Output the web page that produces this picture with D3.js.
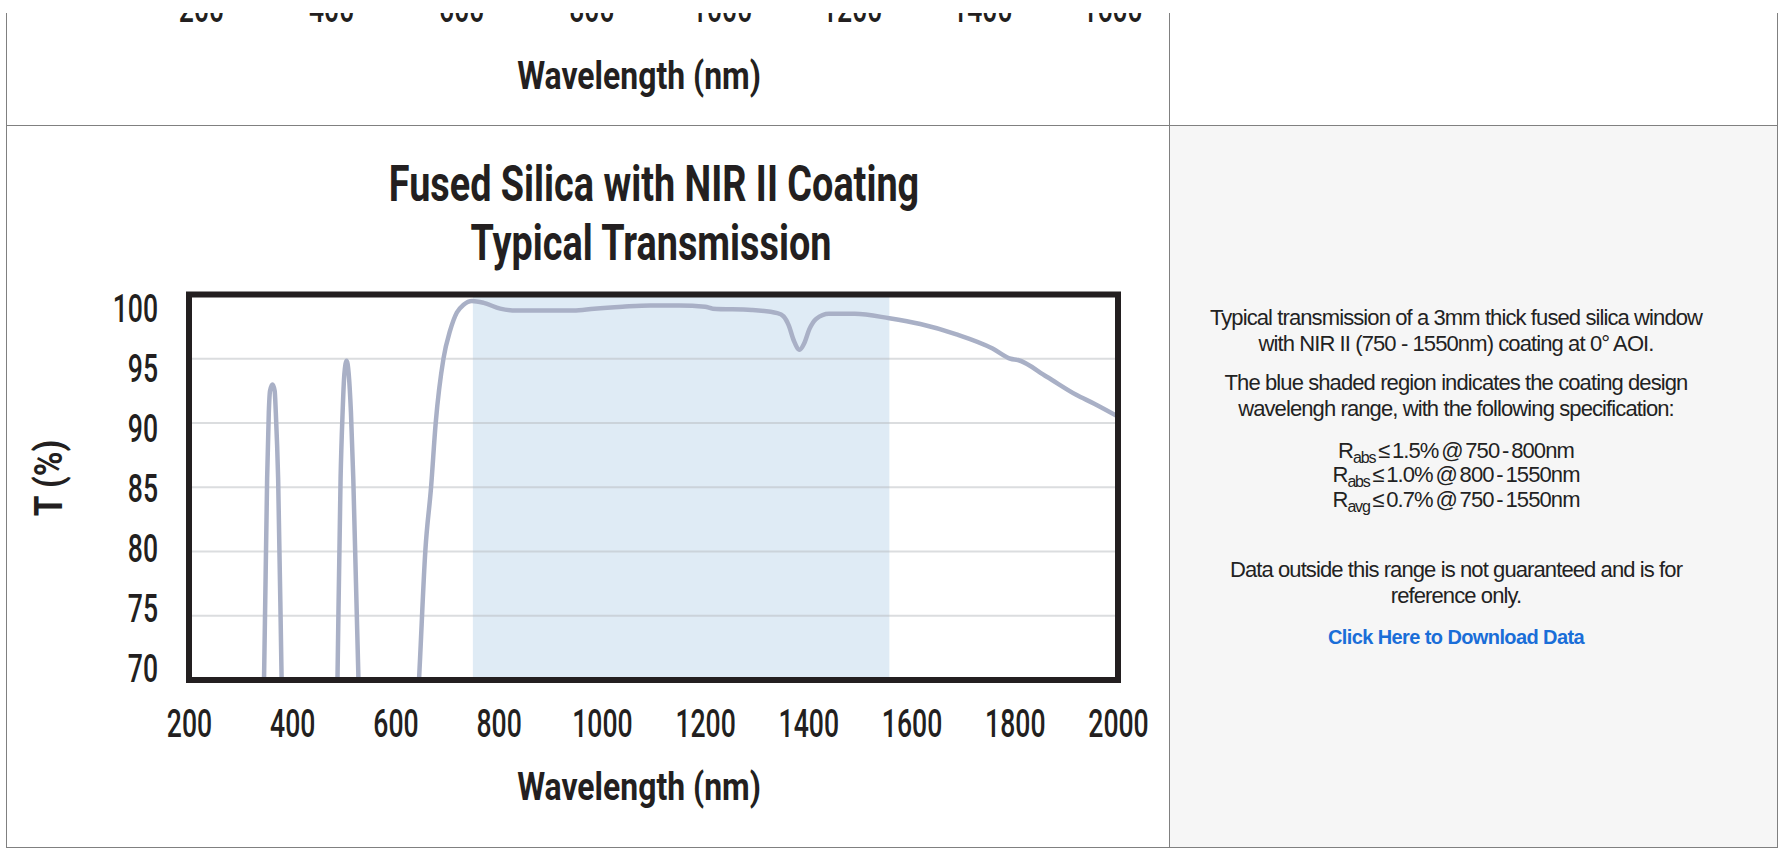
<!DOCTYPE html>
<html>
<head>
<meta charset="utf-8">
<script src="https://cdn.jsdelivr.net/npm/d3@7"></script>
<style>
  html, body { margin: 0; padding: 0; background: #fff; }
  body { width: 1779px; height: 848px; position: relative; overflow: hidden; }
  #chart { position: absolute; left: 0; top: 0; }
  #note { position: absolute; left: 1169px; top: 0; width: 574px; text-align: center;
          font-family: "Liberation Sans", Arial, sans-serif; color: #222; font-size: 22px;
          letter-spacing: -0.9px; white-space: nowrap; }
  #note p { position: absolute; left: 0; right: 0; margin: 0; line-height: 25.5px; }
  #note .spec { word-spacing: -2.5px; }
  #note sub { font-size: 16px; vertical-align: -5px; line-height: 0; letter-spacing: -1.2px; }
  #note a { color: #1a6ed8; font-weight: bold; text-decoration: none; font-size: 20px; letter-spacing: -0.6px; }
</style>
</head>
<body>
<svg id="chart" width="1779" height="848"></svg>
<div id="note">
  <p style="top:305px">Typical transmission of a 3mm thick fused silica window<br>with NIR II (750 - 1550nm) coating at 0° AOI.</p>
  <p style="top:370px">The blue shaded region indicates the coating design<br>wavelengh range, with the following specification:</p>
  <p class="spec" style="top:439px;line-height:24.4px">R<sub>abs</sub> ≤ 1.5% @ 750 - 800nm<br>R<sub>abs</sub> ≤ 1.0% @ 800 - 1550nm<br>R<sub>avg</sub> ≤ 0.7% @ 750 - 1550nm</p>
  <p style="top:557px">Data outside this range is not guaranteed and is for<br>reference only.</p>
  <p style="top:624px"><a href="#">Click Here to Download Data</a></p>
</div>
<script>
// transmission curve
const wavelength = [330, 345.6, 351.4, 354.6, 357, 361.8, 366, 368.2, 372.7, 379.2, 386,
  420, 450,
  482, 487.9, 493.7, 497.6, 501, 505.4, 509.5, 513.8, 518.3, 528, 535,
  600, 646.4, 658, 669, 678, 693, 706, 719, 732, 748, 771, 803, 835, 900, 945,
  985, 1040, 1094, 1150, 1200, 1215, 1290, 1340, 1352, 1362, 1372, 1383, 1392, 1402, 1415,
  1440, 1490, 1557, 1617, 1687, 1757, 1792, 1806, 1862, 1919, 1954, 2000];
const transmission = [55, 70.6, 85.7, 90.8, 92.5, 93.0, 92.5, 90.8, 85.7, 70.6, 55,
  40, 40,
  55, 70.6, 85.7, 90.8, 93.8, 94.85, 93.8, 90.8, 85.7, 70.6, 55,
  40, 70.6, 80.1, 85.0, 90.0, 95.0, 97.2, 98.6, 99.2, 99.5, 99.35, 98.9, 98.75, 98.75, 98.75,
  98.9, 99.05, 99.15, 99.15, 99.05, 98.9, 98.8, 98.55, 98.3, 97.6, 96.4, 95.7, 96.2, 97.3, 98.1,
  98.5, 98.5, 98.15, 97.7, 96.9, 95.8, 95.0, 94.9, 93.6, 92.2, 91.5, 90.5];
const designBand = [750, 1557];
const xTicks = [200, 400, 600, 800, 1000, 1200, 1400, 1600, 1800, 2000];
const yTicks = [70, 75, 80, 85, 90, 95, 100];
const upperTicks = [200, 400, 600, 800, 1000, 1200, 1400, 1600];

const ink = "#231f20";
const condensed = "Roboto, 'Noto Sans', sans-serif";

const svg = d3.select("#chart");

// table cells
svg.append("rect").attr("x", 1169).attr("y", 125).attr("width", 608).attr("height", 722)
  .attr("fill", "#f6f6f6");
const border = svg.append("g").attr("stroke", "#808080").attr("stroke-width", 1)
  .attr("shape-rendering", "crispEdges");
border.append("line").attr("x1", 6.5).attr("x2", 6.5).attr("y1", 13).attr("y2", 848);
border.append("line").attr("x1", 1169.5).attr("x2", 1169.5).attr("y1", 13).attr("y2", 848);
border.append("line").attr("x1", 1777.5).attr("x2", 1777.5).attr("y1", 13).attr("y2", 848);
border.append("line").attr("x1", 6).attr("x2", 1778).attr("y1", 125.5).attr("y2", 125.5);
border.append("line").attr("x1", 6).attr("x2", 1778).attr("y1", 847.5).attr("y2", 847.5);

// ---- upper chart (only its bottom edge shows) ----
svg.append("clipPath").attr("id", "topcut").append("rect")
  .attr("x", 0).attr("y", 13).attr("width", 1169).attr("height", 112);
const upper = svg.append("g").attr("clip-path", "url(#topcut)");
const xUpper = d3.scaleLinear().domain([200, 1600]).range([201, 1112]);
const upAxis = upper.append("g").attr("transform", "translate(0,21.7)")
  .call(d3.axisBottom(xUpper).tickValues(upperTicks).tickSize(0).tickFormat(d3.format("d")));
upAxis.select(".domain").remove();
upAxis.selectAll("text").attr("y", 0).attr("dy", 0)
  .attr("transform", "scale(0.7,1)")
  .attr("font-family", condensed).attr("font-weight", 500).attr("font-size", 38).attr("fill", ink);
upper.append("text").attr("transform", "translate(639,88.5) scale(0.84,1)")
  .attr("text-anchor", "middle").attr("font-family", condensed).attr("font-weight", 700)
  .attr("font-size", 38).attr("fill", ink).text("Wavelength (nm)");

// ---- main chart ----
const x = d3.scaleLinear().domain([200, 2000]).range([189, 1118]);
const y = d3.scaleLinear().domain([70, 100]).range([680, 294.5]);
const yLabel = d3.scaleLinear().domain([70, 100]).range([668, 308]);

svg.append("rect")
  .attr("x", x(designBand[0])).attr("y", y(100))
  .attr("width", x(designBand[1]) - x(designBand[0])).attr("height", y(70) - y(100))
  .attr("fill", "#dfebf5");

svg.append("g").selectAll("line").data(yTicks.slice(1, -1)).join("line")
  .attr("x1", x(200)).attr("x2", x(2000))
  .attr("y1", d => y(d)).attr("y2", d => y(d))
  .attr("stroke", "#b8bcc0").attr("stroke-opacity", 0.5).attr("stroke-width", 2);

svg.append("clipPath").attr("id", "plot").append("rect")
  .attr("x", x(200)).attr("y", y(100)).attr("width", x(2000) - x(200)).attr("height", y(70) - y(100));

const line = d3.line()
  .x((d, i) => x(wavelength[i]))
  .y(d => y(d))
  .curve(d3.curveMonotoneX);
svg.append("path").datum(transmission)
  .attr("clip-path", "url(#plot)")
  .attr("d", line)
  .attr("fill", "none").attr("stroke", "#a9b0c6").attr("stroke-width", 4.5)
  .attr("stroke-linejoin", "round").attr("stroke-linecap", "round");

svg.append("rect")
  .attr("x", x(200)).attr("y", y(100)).attr("width", x(2000) - x(200)).attr("height", y(70) - y(100))
  .attr("fill", "none").attr("stroke", ink).attr("stroke-width", 6);

const xAxis = svg.append("g").attr("transform", "translate(0,736.5)")
  .call(d3.axisBottom(x).tickValues(xTicks).tickSize(0).tickFormat(d3.format("d")));
xAxis.select(".domain").remove();
xAxis.selectAll("text").attr("y", 0).attr("dy", 0)
  .attr("transform", "scale(0.7,1)")
  .attr("font-family", condensed).attr("font-weight", 500).attr("font-size", 38).attr("fill", ink);

const yAxis = svg.append("g").attr("transform", "translate(158,13.5)")
  .call(d3.axisLeft(yLabel).tickValues(yTicks).tickSize(0).tickFormat(d3.format("d")));
yAxis.select(".domain").remove();
yAxis.selectAll("text").attr("x", 0).attr("dy", 0)
  .attr("transform", "scale(0.7,1)")
  .attr("font-family", condensed).attr("font-weight", 500).attr("font-size", 38).attr("fill", ink);

const title = svg.append("g").attr("font-family", condensed).attr("font-weight", 700)
  .attr("fill", ink).attr("text-anchor", "middle");
title.append("text").attr("transform", "translate(654,201) scale(0.756,1)")
  .attr("font-size", 50).text("Fused Silica with NIR II Coating");
title.append("text").attr("transform", "translate(651,260) scale(0.756,1)")
  .attr("font-size", 50).text("Typical Transmission");
title.append("text").attr("transform", "translate(639,800) scale(0.84,1)")
  .attr("font-size", 38).text("Wavelength (nm)");
title.append("text").attr("transform", "translate(62,478) rotate(-90) scale(0.88,1)")
  .attr("font-size", 38).text("T (%)");
</script>
</body>
</html>
